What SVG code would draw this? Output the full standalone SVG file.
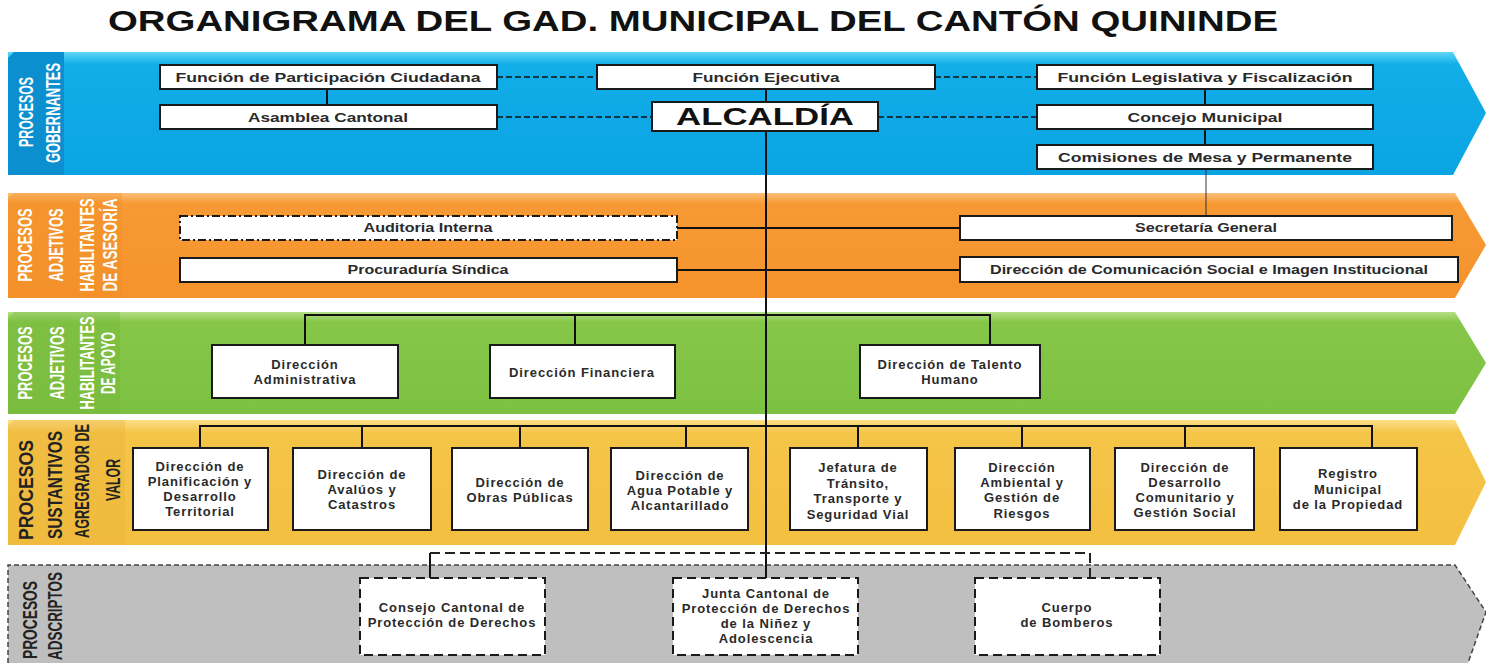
<svg xmlns="http://www.w3.org/2000/svg" width="1486" height="663" viewBox="0 0 1486 663">
<defs>
<linearGradient id="gBlue" x1="0" y1="0" x2="0" y2="1"><stop offset="0" stop-color="#5fd6f6"/><stop offset="0.1" stop-color="#12aee8"/><stop offset="1" stop-color="#0aa4e3"/></linearGradient>
<linearGradient id="gOrange" x1="0" y1="0" x2="0" y2="1"><stop offset="0" stop-color="#fbc07a"/><stop offset="0.1" stop-color="#f79a34"/><stop offset="1" stop-color="#f5932c"/></linearGradient>
<linearGradient id="gGreen" x1="0" y1="0" x2="0" y2="1"><stop offset="0" stop-color="#b5df86"/><stop offset="0.1" stop-color="#86c649"/><stop offset="1" stop-color="#7dc142"/></linearGradient>
<linearGradient id="gYellow" x1="0" y1="0" x2="0" y2="1"><stop offset="0" stop-color="#fbdf8a"/><stop offset="0.1" stop-color="#f5c548"/><stop offset="1" stop-color="#f3bf40"/></linearGradient>
<style>
.title{font-family:"Liberation Sans",Arial,sans-serif;font-weight:bold;font-size:29px;fill:#111}
.lbl{font-family:"Liberation Sans Narrow","Liberation Sans",Arial,sans-serif;font-weight:bold;font-size:20px;fill:#ffffff;text-anchor:middle}
.lblg{fill:#222222}
.box{fill:#ffffff;stroke:#1a1a1a;stroke-width:2}
.dbox{fill:#ffffff;stroke:#1a1a1a;stroke-width:2;stroke-dasharray:9,5}
.ddbox{fill:#ffffff;stroke:#1a1a1a;stroke-width:2;stroke-dasharray:8,3,2,3}
.t{font-family:"Liberation Sans",Arial,sans-serif;font-weight:bold;font-size:13.5px;fill:#2a2a2a;text-anchor:middle}
.o{font-family:"Liberation Sans",Arial,sans-serif;font-weight:bold;font-size:12.5px;fill:#2a2a2a;text-anchor:middle}
.s{font-family:"Liberation Sans",Arial,sans-serif;font-weight:bold;font-size:13px;letter-spacing:0.9px;fill:#2a2a2a;text-anchor:middle}
.big{font-family:"Liberation Sans",Arial,sans-serif;font-weight:bold;font-size:23px;fill:#111;text-anchor:middle}
.ln{fill:none;stroke:#111;stroke-width:2}
.thin{fill:none;stroke:#333;stroke-width:1}
.dl{fill:none;stroke:#111;stroke-width:1.6;stroke-dasharray:6,3}
.dg{fill:none;stroke:#222;stroke-width:2;stroke-dasharray:10,5}
</style>
</defs>
<rect width="1486" height="663" fill="#ffffff"/>
<text class="title" x="108" y="31" textLength="1170" lengthAdjust="spacingAndGlyphs">ORGANIGRAMA DEL GAD. MUNICIPAL DEL CANTÓN QUININDE</text>

<g id="bands">
<polygon points="8,52 1453,52 1486,113 1453,175 8,175" fill="url(#gBlue)"/>
<polygon points="8,58 14,52 64,52 64,175 8,175" fill="#0b8fcf"/>
<polygon points="8,193 1455,193 1486,245 1455,298 8,298" fill="url(#gOrange)"/>
<polygon points="8,199 14,193 122,193 122,298 8,298" fill="#f08c26" opacity="0.35"/>
<polygon points="8,312 1455,312 1486,363 1455,414 8,414" fill="url(#gGreen)"/>
<polygon points="8,318 14,312 120,312 120,414 8,414" fill="#72b53a" opacity="0.35"/>
<polygon points="8,420 1455,420 1486,482 1455,545 8,545" fill="url(#gYellow)"/>
<polygon points="8,426 14,420 125,420 125,545 8,545" fill="#e8b33a" opacity="0.35"/>
<path d="M8,663 V565 H1455 L1486,612 L1468,663" fill="#bfbfbf" stroke="#444" stroke-width="1.5" stroke-dasharray="5,3"/>
</g>

<g id="band-labels">
<text class="lbl" transform="translate(33,112) rotate(-90)" textLength="70" lengthAdjust="spacingAndGlyphs">PROCESOS</text>
<text class="lbl" transform="translate(60,113) rotate(-90)" textLength="100" lengthAdjust="spacingAndGlyphs">GOBERNANTES</text>
<text class="lbl" transform="translate(32,245) rotate(-90)" textLength="73" lengthAdjust="spacingAndGlyphs">PROCESOS</text>
<text class="lbl" transform="translate(63,245) rotate(-90)" textLength="73" lengthAdjust="spacingAndGlyphs">ADJETIVOS</text>
<text class="lbl" transform="translate(94,245) rotate(-90)" textLength="93" lengthAdjust="spacingAndGlyphs">HABILITANTES</text>
<text class="lbl" transform="translate(117,245) rotate(-90)" textLength="93" lengthAdjust="spacingAndGlyphs">DE ASESORÍA</text>
<text class="lbl" transform="translate(32,363) rotate(-90)" textLength="73" lengthAdjust="spacingAndGlyphs">PROCESOS</text>
<text class="lbl" transform="translate(64,363) rotate(-90)" textLength="73" lengthAdjust="spacingAndGlyphs">ADJETIVOS</text>
<text class="lbl" transform="translate(94,363) rotate(-90)" textLength="93" lengthAdjust="spacingAndGlyphs">HABILITANTES</text>
<text class="lbl" transform="translate(115,363) rotate(-90)" textLength="62" lengthAdjust="spacingAndGlyphs">DE APOYO</text>
<text class="lbl lblg" transform="translate(33,490) rotate(-90)" textLength="100" lengthAdjust="spacingAndGlyphs">PROCESOS</text>
<text class="lbl lblg" transform="translate(62,485) rotate(-90)" textLength="108" lengthAdjust="spacingAndGlyphs">SUSTANTIVOS</text>
<text class="lbl lblg" transform="translate(89,481) rotate(-90)" textLength="114" lengthAdjust="spacingAndGlyphs">AGREGRADOR DE</text>
<text class="lbl lblg" transform="translate(120,480) rotate(-90)" textLength="42" lengthAdjust="spacingAndGlyphs">VALOR</text>
<text class="lbl lblg" transform="translate(37,620) rotate(-90)" textLength="78" lengthAdjust="spacingAndGlyphs">PROCESOS</text>
<text class="lbl lblg" transform="translate(62,616) rotate(-90)" textLength="88" lengthAdjust="spacingAndGlyphs">ADSCRIPTOS</text>
</g>

<g id="connectors">
<path class="dl" d="M497,77 H597 M935,77 H1037 M497,117 H652 M878,117 H1037"/>
<path class="ln" d="M327,89 V105 M766,89 V102 M1205,89 V105 M1205,129 V145"/>
<path class="thin" d="M1206,169 V216"/>
<path class="ln" d="M766,131 V578"/>
<path class="ln" d="M677,228 H960 M677,270 H960"/>
<path class="ln" d="M305,345 V315 H990 V345 M575,315 V345"/>
<path class="ln" d="M200,448 V426 H1372 V448 M362,426 V448 M520,426 V448 M686,426 V448 M858,426 V448 M1022,426 V448 M1185,426 V448"/>
<path class="ln" d="M430,578 V553"/>
<path class="dg" d="M430,553 H1090 V578"/>
</g>

<g id="n-participacion"><rect class="box" x="160" y="65" width="337" height="24"/><text class="t" x="328" y="82" textLength="305" lengthAdjust="spacingAndGlyphs">Función de Participación Ciudadana</text></g>
<g id="n-ejecutiva"><rect class="box" x="597" y="65" width="338" height="24"/><text class="t" x="766" y="82" textLength="147" lengthAdjust="spacingAndGlyphs">Función Ejecutiva</text></g>
<g id="n-legislativa"><rect class="box" x="1037" y="65" width="336" height="24"/><text class="t" x="1205" y="82" textLength="295" lengthAdjust="spacingAndGlyphs">Función Legislativa y Fiscalización</text></g>
<g id="n-asamblea"><rect class="box" x="160" y="105" width="337" height="24"/><text class="t" x="328" y="122" textLength="160" lengthAdjust="spacingAndGlyphs">Asamblea Cantonal</text></g>
<g id="n-alcaldia"><rect class="box" x="652" y="102" width="226" height="29" stroke-width="3"/><text class="big" x="765" y="125" textLength="178" lengthAdjust="spacingAndGlyphs">ALCALDÍA</text></g>
<g id="n-concejo"><rect class="box" x="1037" y="105" width="336" height="24"/><text class="t" x="1205" y="122" textLength="155" lengthAdjust="spacingAndGlyphs">Concejo Municipal</text></g>
<g id="n-comisiones"><rect class="box" x="1037" y="145" width="336" height="24"/><text class="t" x="1205" y="162" textLength="294" lengthAdjust="spacingAndGlyphs">Comisiones de Mesa y Permanente</text></g>

<g id="n-auditoria"><rect class="ddbox" x="180" y="216" width="497" height="24"/><text class="o" x="428" y="232" textLength="129" lengthAdjust="spacingAndGlyphs">Auditoria Interna</text></g>
<g id="n-secretaria"><rect class="box" x="960" y="216" width="492" height="24"/><text class="o" x="1206" y="232" textLength="142" lengthAdjust="spacingAndGlyphs">Secretaría General</text></g>
<g id="n-procuraduria"><rect class="box" x="180" y="258" width="497" height="24"/><text class="o" x="428" y="274" textLength="161" lengthAdjust="spacingAndGlyphs">Procuraduría Síndica</text></g>
<g id="n-comunicacion"><rect class="box" x="960" y="257" width="498" height="25"/><text class="o" x="1209" y="274" textLength="438" lengthAdjust="spacingAndGlyphs">Dirección de Comunicación  Social e Imagen Institucional</text></g>

<g id="n-administrativa"><rect class="box" x="212" y="345" width="186" height="53"/><text class="s"><tspan x="305" y="369">Dirección</tspan><tspan x="305" y="384">Administrativa</tspan></text></g>
<g id="n-financiera"><rect class="box" x="490" y="345" width="185" height="53"/><text class="s" x="582" y="377">Dirección Financiera</text></g>
<g id="n-talento"><rect class="box" x="860" y="345" width="180" height="53"/><text class="s"><tspan x="950" y="369">Dirección de Talento</tspan><tspan x="950" y="384">Humano</tspan></text></g>

<g id="n-planificacion"><rect class="box" x="133" y="448" width="135" height="82"/><text class="s"><tspan x="200" y="471">Dirección de</tspan><tspan x="200" y="486">Planificación  y</tspan><tspan x="200" y="501">Desarrollo</tspan><tspan x="200" y="516">Territorial</tspan></text></g>
<g id="n-avaluos"><rect class="box" x="293" y="448" width="138" height="82"/><text class="s"><tspan x="362" y="479">Dirección de</tspan><tspan x="362" y="494">Avalúos y</tspan><tspan x="362" y="509">Catastros</tspan></text></g>
<g id="n-obras"><rect class="box" x="452" y="448" width="136" height="82"/><text class="s"><tspan x="520" y="487">Dirección de</tspan><tspan x="520" y="502">Obras Públicas</tspan></text></g>
<g id="n-agua"><rect class="box" x="611" y="448" width="137" height="82"/><text class="s"><tspan x="680" y="480">Dirección de</tspan><tspan x="680" y="495">Agua Potable y</tspan><tspan x="680" y="510">Alcantarillado</tspan></text></g>
<g id="n-transito"><rect class="box" x="790" y="448" width="137" height="82"/><text class="s"><tspan x="858" y="472">Jefatura  de</tspan><tspan x="858" y="488">Tránsito,</tspan><tspan x="858" y="503">Transporte y</tspan><tspan x="858" y="519">Seguridad  Vial</tspan></text></g>
<g id="n-ambiental"><rect class="box" x="955" y="448" width="135" height="82"/><text class="s"><tspan x="1022" y="472">Dirección</tspan><tspan x="1022" y="487">Ambiental y</tspan><tspan x="1022" y="502">Gestión de</tspan><tspan x="1022" y="518">Riesgos</tspan></text></g>
<g id="n-comunitario"><rect class="box" x="1115" y="448" width="139" height="82"/><text class="s"><tspan x="1185" y="472">Dirección de</tspan><tspan x="1185" y="487">Desarrollo</tspan><tspan x="1185" y="502">Comunitario y</tspan><tspan x="1185" y="517">Gestión Social</tspan></text></g>
<g id="n-registro"><rect class="box" x="1280" y="448" width="137" height="82"/><text class="s"><tspan x="1348" y="478">Registro</tspan><tspan x="1348" y="494">Municipal</tspan><tspan x="1348" y="509">de la Propiedad</tspan></text></g>

<g id="n-consejo"><rect class="dbox" x="360" y="578" width="185" height="77"/><text class="s"><tspan x="452" y="612">Consejo Cantonal de</tspan><tspan x="452" y="627">Protección de Derechos</tspan></text></g>
<g id="n-junta"><rect class="dbox" x="673" y="578" width="185" height="77"/><text class="s"><tspan x="766" y="598">Junta Cantonal de</tspan><tspan x="766" y="613">Protección de Derechos</tspan><tspan x="766" y="628">de la Niñez y</tspan><tspan x="766" y="643">Adolescencia</tspan></text></g>
<g id="n-bomberos"><rect class="dbox" x="975" y="578" width="185" height="77"/><text class="s"><tspan x="1067" y="612">Cuerpo</tspan><tspan x="1067" y="627">de Bomberos</tspan></text></g>
</svg>
